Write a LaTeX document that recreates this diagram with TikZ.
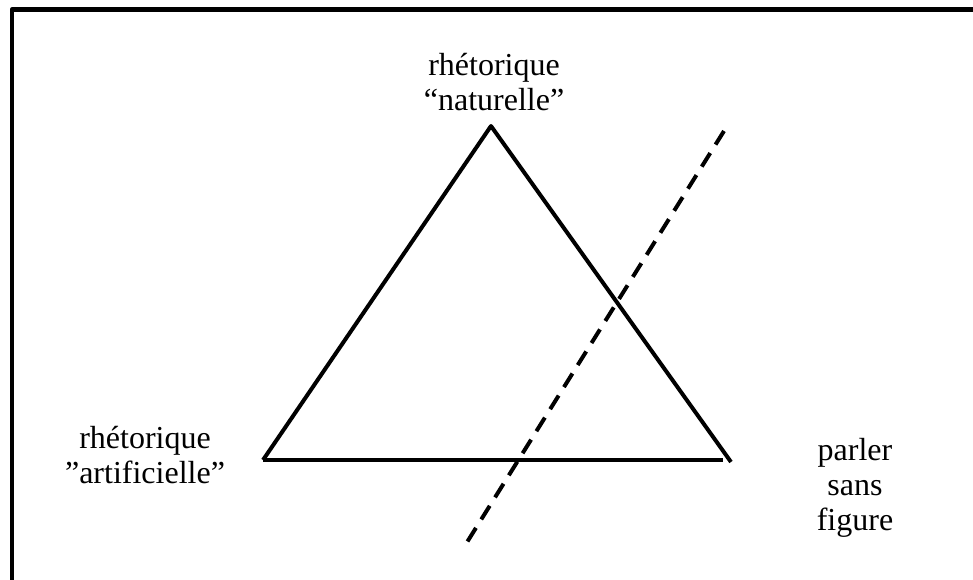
\documentclass[tikz,border=0pt]{standalone}
\usepackage{fontspec}
\setmainfont{Liberation Serif}
\usepackage{tikz}

\tikzset{
  label text/.style={align=center, inner sep=0pt, font=\fontsize{32}{35}\selectfont},
  side/.style={line width=4pt, line cap=butt},
  cut/.style={line width=4pt, dash pattern=on 16pt off 10pt}
}

\begin{document}
\begin{tikzpicture}[x=1pt, y=-1pt, line join=round]
  \useasboundingbox (0,0) rectangle (973,579);
  % frame (cut off on the right and below)
  \draw[line width=4.5pt] (12,590) -- (12,9.5) -- (990,9.5);
  % triangle
  \coordinate (N) at (491,126);
  \coordinate (A) at (263,460);
  \coordinate (P) at (723,460);
  \coordinate (Q) at (731,462);
  \draw[side] (A) -- (N) -- (Q);
  \draw[side] (A) -- (P);
  % dashed cut
  \coordinate (cT) at (724,131);
  \coordinate (cB) at (464,547);
  \draw[cut] (cT) -- (cB);
  % labels
  \node[label text] (nat) at (494,82) {rhétorique\\“naturelle”};
  \node[label text] (art) at (145,455) {rhétorique\\”artificielle”};
  \node[label text] (psf) at (855,488) {parler\\sans\\figure};
\end{tikzpicture}
\end{document}
